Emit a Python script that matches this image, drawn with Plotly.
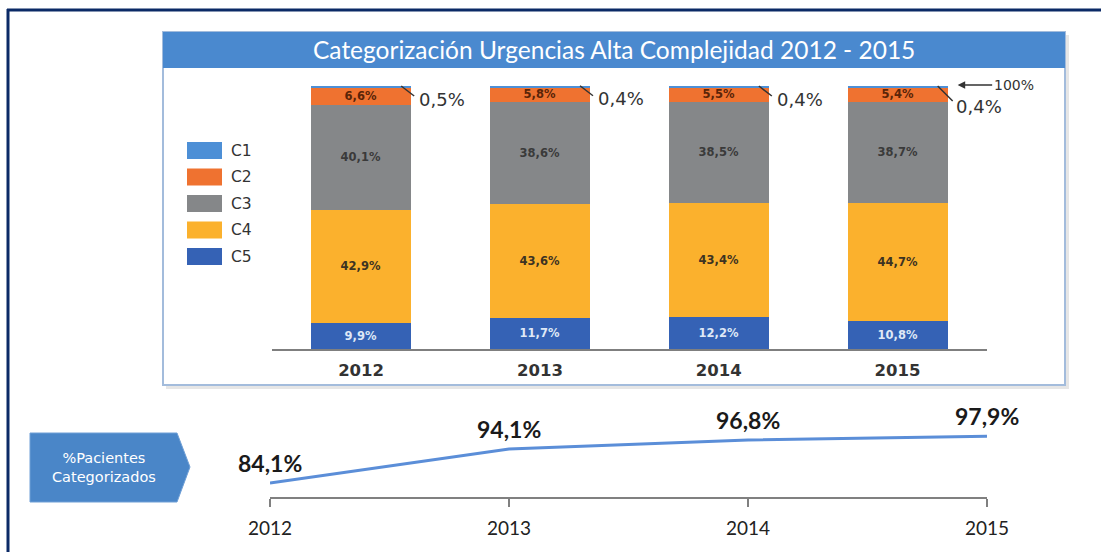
import plotly.graph_objects as go

# ---------------- data ----------------
years = [2012, 2013, 2014, 2015]
series_names = ["C1", "C2", "C3", "C4", "C5"]
c1 = [0.5, 0.4, 0.4, 0.4]
c2 = [6.6, 5.8, 5.5, 5.4]
c3 = [40.1, 38.6, 38.5, 38.7]
c4 = [42.9, 43.6, 43.4, 44.7]
c5 = [9.9, 11.7, 12.2, 10.8]
pct_categorizados = [84.1, 94.1, 96.8, 97.9]
title_text = "Categorización Urgencias Alta Complejidad 2012 - 2015"
box_text = "%Pacientes<br>Categorizados"

# ---------------- style ----------------
W, H = 1101, 552
colors = {"C1": "#4d8fd6", "C2": "#ef7230", "C3": "#858789", "C4": "#fbb12d", "C5": "#3562b5"}
text_colors = {"C1": "#333333", "C2": "#5a2408", "C3": "#3a3a3a", "C4": "#3d3322", "C5": "#dfe8f6"}
values = {"C1": c1, "C2": c2, "C3": c3, "C4": c4, "C5": c5}
BW = 0.56
YMAX = 102
BASE_PX, PX_PER_PCT = 349, 2.63


def fx(px):
    return px / W


def fy(py):
    return 1 - py / H


def fmt(v):
    return f"{v:.1f}%".replace(".", ",")


fig = go.Figure()

# stacked bars: bottom C5 -> top C1
for name in reversed(series_names):
    vals = values[name]
    txt = [fmt(v) if name != "C1" else "" for v in vals]
    fig.add_trace(go.Bar(
        x=years, y=vals, name=name, width=BW,
        marker=dict(color=colors[name], line=dict(width=0)),
        text=txt, textposition="inside", insidetextanchor="middle",
        textangle=0, constraintext="none",
        textfont=dict(family="DejaVu Sans", size=11.5, color=text_colors[name], weight="bold"),
        xaxis="x", yaxis="y", showlegend=False, hoverinfo="skip",
    ))

# line chart
fig.add_trace(go.Scatter(
    x=years, y=pct_categorizados, mode="lines",
    line=dict(color="#5b8ed8", width=3),
    xaxis="x2", yaxis="y2", showlegend=False, cliponaxis=False, hoverinfo="skip",
))

shapes = []
annotations = []

# outer navy frame
shapes.append(dict(type="line", xref="paper", yref="paper", x0=fx(7), x1=1, y0=fy(10), y1=fy(10),
                   line=dict(color="#0b2a66", width=3), layer="above"))
shapes.append(dict(type="line", xref="paper", yref="paper", x0=fx(8), x1=fx(8), y0=fy(9), y1=0,
                   line=dict(color="#0b2a66", width=3), layer="above"))

# panel shadow + box + title bar
shapes.append(dict(type="rect", xref="paper", yref="paper", x0=fx(166), x1=fx(1069), y0=fy(389), y1=fy(35),
                   line=dict(width=0), fillcolor="#e6e6e6", layer="below"))
shapes.append(dict(type="rect", xref="paper", yref="paper", x0=fx(163), x1=fx(1065), y0=fy(385), y1=fy(32),
                   line=dict(color="#a3bcdc", width=2), fillcolor="white", layer="below"))
shapes.append(dict(type="rect", xref="paper", yref="paper", x0=fx(163), x1=fx(1065), y0=fy(68), y1=fy(32),
                   line=dict(width=0), fillcolor="#4a89cf", layer="below"))
annotations.append(dict(xref="paper", yref="paper", x=fx(614), y=fy(50), text=title_text, showarrow=False,
                        font=dict(family="Lato", size=24.5, color="white"), xanchor="center", yanchor="middle"))

# custom legend
for i, name in enumerate(series_names):
    ytop = 142 + i * 26.5
    shapes.append(dict(type="rect", xref="paper", yref="paper", x0=fx(187), x1=fx(222),
                       y0=fy(ytop + 17), y1=fy(ytop), line=dict(width=0), fillcolor=colors[name]))
    annotations.append(dict(xref="paper", yref="paper", x=fx(229), y=fy(ytop + 8.5), text=name,
                            showarrow=False, xanchor="left", yanchor="middle",
                            font=dict(family="DejaVu Sans", size=15.5, color="#333333")))

# C1 small labels outside with leader lines
tops = [sum(values[n][i] for n in series_names) for i in range(len(years))]
for i, yr in enumerate(years):
    last = i == len(years) - 1
    shapes.append(dict(type="line", xref="x", yref="y", xsizemode="pixel", ysizemode="pixel",
                       xanchor=yr + BW / 2, yanchor=tops[i], x0=-10, x1=(5 if last else 3),
                       y0=0, y1=(-15 if last else -10), line=dict(color="#333333", width=1.5)))
    annotations.append(dict(xref="x", yref="y", x=yr + BW / 2, y=tops[i], text=fmt(c1[i]),
                            showarrow=False, xanchor="center", yanchor="middle",
                            xshift=31, yshift=(-20 if last else -13),
                            font=dict(family="DejaVu Sans", size=18, color="#333333")))

# 100% arrow
annotations.append(dict(xref="x", yref="y", x=years[-1] + BW / 2, y=tops[-1], text="100%",
                        showarrow=True, ax=56, ay=0, axref="pixel", ayref="pixel", xshift=10, yshift=1,
                        arrowhead=2, arrowsize=1, arrowwidth=1.5, arrowcolor="#333333", standoff=0,
                        font=dict(family="DejaVu Sans", size=14, color="#333333")))

# pentagon label box
pts = [(30, 433), (177, 433), (190, 467), (177, 502), (30, 502)]
path = "M " + " L ".join(f"{fx(x)},{fy(y)}" for x, y in pts) + " Z"
shapes.append(dict(type="path", xref="paper", yref="paper", path=path,
                   fillcolor="#4a86c8", line=dict(color="#6f9fd6", width=1)))
annotations.append(dict(xref="paper", yref="paper", x=fx(104), y=fy(467), text=box_text, showarrow=False,
                        xanchor="center", yanchor="middle",
                        font=dict(family="DejaVu Sans", size=14.5, color="white")))

# line labels
for yr, v in zip(years, pct_categorizados):
    annotations.append(dict(xref="x2", yref="y2", x=yr, y=v, text=fmt(v), showarrow=False,
                            yshift=20, xanchor="center", yanchor="middle",
                            font=dict(family="Lato", size=23, color="#1a1a1a", weight="bold")))

fig.update_layout(
    template="none",
    width=W, height=H, margin=dict(l=0, r=0, t=0, b=0, pad=0, autoexpand=False),
    paper_bgcolor="white", plot_bgcolor="rgba(0,0,0,0)",
    barmode="stack", bargap=0, showlegend=False,
    shapes=shapes, annotations=annotations,
    xaxis=dict(domain=[fx(271.7), fx(987)], range=[2011.5, 2015.5], tickvals=years,
               ticktext=[str(y) for y in years], showgrid=False, zeroline=False, automargin=False,
               showline=True, linecolor="#7f7f7f", linewidth=2, ticks="",
               tickfont=dict(family="DejaVu Sans", size=16.5, color="#333333", weight="bold"),
               ticklabelstandoff=5, fixedrange=True),
    yaxis=dict(domain=[fy(BASE_PX), fy(BASE_PX - YMAX * PX_PER_PCT)], range=[0, YMAX],
               visible=False, fixedrange=True, automargin=False),
    xaxis2=dict(domain=[fx(270), fx(987)], range=[2012, 2015], tickvals=years,
                ticktext=[str(y) for y in years], showgrid=False, zeroline=False, automargin=False,
                showline=True, linecolor="#808080", linewidth=1.5, ticks="outside", ticklen=8,
                tickcolor="#808080", tickwidth=1.5, anchor="y2",
                tickfont=dict(family="Lato", size=19, color="#222222"), ticklabelstandoff=5,
                fixedrange=True),
    yaxis2=dict(domain=[fy(497), fy(429)], range=[80, 100], visible=False, anchor="x2",
                fixedrange=True, automargin=False),
)

fig.write_html("out.html", config={"displayModeBar": False},
               post_script="document.body.style.margin='0px';document.body.style.overflow='hidden';")
